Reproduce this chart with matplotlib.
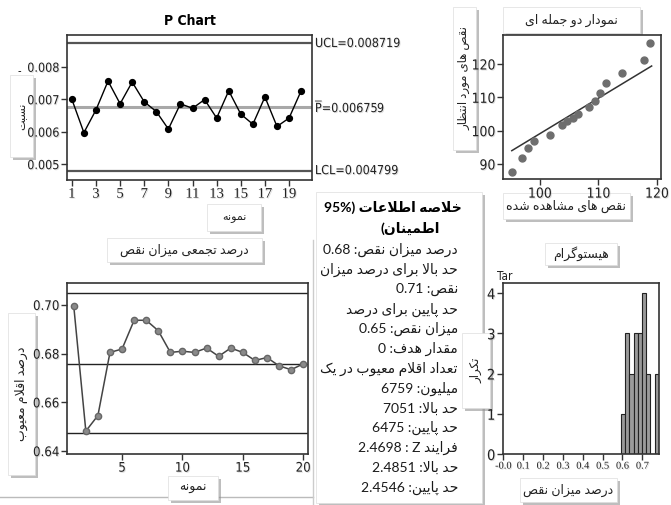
import re
import unicodedata as ud
import numpy as np
import matplotlib
matplotlib.use('Agg')
import matplotlib.pyplot as plt
import matplotlib.patheffects as pe
from matplotlib.patches import Rectangle
from matplotlib.lines import Line2D
from matplotlib.ticker import FormatStrFormatter

W, H = 671, 505

plt.rcParams['font.family'] = ['DejaVu Sans']
plt.rcParams['font.stretch'] = 'condensed'
AR_FONT = ['Lato', 'DejaVu Sans']

# P chart
samples = list(range(1, 21))
p_values = [0.00700, 0.00597, 0.00667, 0.00756, 0.00686, 0.00753, 0.00692, 0.00662, 0.00608, 0.00686,
            0.00672, 0.00699, 0.00642, 0.00726, 0.00654, 0.00623, 0.00707, 0.00616, 0.00642, 0.00726]
p_ucl = 0.008719
p_bar = 0.006759
p_lcl = 0.004799

# binomial plot
observed = [95.2, 97.0, 98.0, 99.0, 101.8, 103.7, 104.7, 105.6, 106.6, 108.4,
            109.4, 110.3, 111.3, 114.1, 117.8, 118.9]
expected = [87.7, 91.9, 94.8, 97.0, 98.8, 101.8, 103.0, 103.9, 105.1, 107.0,
            108.9, 111.2, 114.2, 117.2, 121.2, 126.4]
fit_x = [95.2, 119.1]
fit_y = [94.0, 119.4]

# cumulative % defective
cum_pct = [0.6995, 0.6482, 0.6546, 0.6805, 0.6819, 0.6937, 0.6937, 0.6894, 0.6805, 0.6810,
           0.6805, 0.6823, 0.6789, 0.6823, 0.6805, 0.6772, 0.6784, 0.6750, 0.6734, 0.6758]
ci_upper = 0.7051
ci_mean = 0.6759
ci_lower = 0.6475

# histogram
hist_edges = [0.593, 0.614, 0.635, 0.656, 0.678, 0.699, 0.720, 0.741, 0.762, 0.784]
hist_counts = [1, 3, 2, 3, 3, 4, 2, 0, 2]
hist_ticks = [0.0, 0.1, 0.2, 0.3, 0.4, 0.5, 0.6, 0.7]
hist_ticklabels = ['-0.0', '0.1', '0.2', '0.3', '0.4', '0.5', '0.6', '0.7']

summary_title = ['خلاصه اطلاعات (95%', 'اطمینان)']
summary_lines = ['درصد میزان نقص: 0.68', 'حد بالا برای درصد میزان', 'نقص: 0.71',
                 'حد پایین برای درصد', 'میزان نقص: 0.65', 'مقدار هدف: 0',
                 'تعداد اقلام معیوب در یک', 'میلیون: 6759', 'حد بالا: 7051',
                 'حد پایین: 6475', 'فرایند Z : 2.4698', 'حد بالا: 2.4851', 'حد پایین: 2.4546']


# --- minimal arabic shaping + rtl ordering (matplotlib has none) ---
def _is_ar(ch):
    return ud.name(ch, '').startswith('ARABIC LETTER')


def _form(ch, form):
    try:
        return ud.lookup(ud.name(ch) + ' ' + form + ' FORM')
    except KeyError:
        return None


def _dual(ch):
    return bool(ch) and _is_ar(ch) and _form(ch, 'INITIAL') is not None


def fa(text):
    out = []
    i, n = 0, len(text)
    while i < n:
        ch = text[i]
        if not _is_ar(ch):
            out.append(ch)
            i += 1
            continue
        prev = text[i - 1] if i > 0 else ''
        jp = _dual(prev)
        if ch == '\u0644' and i + 1 < n and text[i + 1] == '\u0627':
            out.append(ud.lookup('ARABIC LIGATURE LAM WITH ALEF %s FORM' % ('FINAL' if jp else 'ISOLATED')))
            i += 2
            continue
        nxt = text[i + 1] if i + 1 < n else ''
        jn = _dual(ch) and bool(nxt) and _is_ar(nxt)
        form = 'MEDIAL' if (jp and jn) else 'FINAL' if jp else 'INITIAL' if jn else 'ISOLATED'
        out.append(_form(ch, form) or ch)
        i += 1
    s = ''.join(out)[::-1]
    s = re.sub(r'[A-Za-z0-9.%]+', lambda m: m.group(0)[::-1], s)
    return s.translate(str.maketrans('()', ')('))


fig = plt.figure(figsize=(W / 100, H / 100), dpi=100)
shadow = [pe.withSimplePatchShadow(offset=(2.5, -2.5), shadow_rgbFace='#8a8a8a', alpha=0.55)]
tshadow = [pe.withSimplePatchShadow(offset=(0.7, -0.7), shadow_rgbFace='#aaaaaa', alpha=0.4)]


def box(x0, y0, x1, y1, z=-1):
    # label boxes sit behind the axes so tick labels stay readable
    r = Rectangle((x0 / W, 1 - y1 / H), (x1 - x0) / W, (y1 - y0) / H, transform=fig.transFigure,
                  fc='white', ec='#dddddd', lw=0.5, zorder=z)
    r.set_path_effects(shadow)
    fig.add_artist(r)


def label(x0, y0, x1, y1, txt, rot=0, size=8.5):
    box(x0, y0, x1, y1)
    fig.text((x0 + x1) / 2 / W, 1 - (y0 + y1) / 2 / H, fa(txt), rotation=rot, ha='center', va='center',
             fontsize=size, family=AR_FONT, stretch='normal', color='#222222', zorder=6)


def style(ax, size=10):
    for s in ax.spines.values():
        s.set_color('#333333')
        s.set_linewidth(1.2)
    ax.tick_params(direction='out', length=4, width=1, color='#333333', labelsize=size,
                   labelcolor='#222222', top=False, right=False, pad=1.5)
    for t in ax.get_xticklabels() + ax.get_yticklabels():
        t.set_path_effects(tshadow)


# P chart
ax1 = fig.add_axes([67 / W, 1 - 180 / H, 245 / W, 145 / H])
ax1.axhline(p_ucl, color='#555555', lw=1.6)
ax1.axhline(p_lcl, color='#555555', lw=1.6)
ax1.axhline(p_bar, color='#a8a8a8', lw=2.2)
ax1.plot(samples, p_values, color='black', lw=1, marker='o', ms=4.2, zorder=3)
ax1.set_xlim(0.6, 20.9)
ax1.set_ylim(0.00451, 0.00898)
ax1.set_xticks(samples[::2])
ax1.set_yticks([0.005, 0.006, 0.007, 0.008])
ax1.yaxis.set_major_formatter(FormatStrFormatter('%.3f'))
style(ax1, size=9)
for t in ax1.get_xticklabels():
    t.set_family('Liberation Serif')
    t.set_fontsize(10.5)
ax1.set_title('P Chart', fontsize=10, fontweight='bold', pad=7)
trans = ax1.get_yaxis_transform()
for val, txt in [(p_ucl, 'UCL=%.6f' % p_ucl), (p_bar, r'$\overline{\mathrm{P}}$=%.6f' % p_bar),
                 (p_lcl, 'LCL=%.6f' % p_lcl)]:
    ax1.text(1.012, val, txt, transform=trans, ha='left', va='center', fontsize=9, color='#222222',
             path_effects=tshadow)
label(10, 75, 33, 157, 'نسبت', rot=90, size=8)
fig.text(19 / W, 1 - 71 / H, '-', fontsize=8, ha='center', va='center')
label(207, 204, 261, 231, 'نمونه', size=8)

# binomial plot
ax2 = fig.add_axes([503 / W, 1 - 179 / H, 158 / W, 144 / H])
ax2.plot(fit_x, fit_y, color='#333333', lw=1.1)
ax2.plot(observed, expected, 'o', ms=5, color='#6e6e6e', zorder=3)
ax2.set_xlim(93.7, 120.7)
ax2.set_ylim(85.5, 128.7)
ax2.set_xticks([100, 110, 120])
ax2.set_yticks([90, 100, 110, 120])
style(ax2, size=10)
label(503, 7, 640, 33, 'نمودار دو جمله ای', size=9)
label(453, 7, 476, 150, 'نقص های مورد انتظار', rot=90, size=8.5)
label(503, 193, 630, 219, 'نقص های مشاهده شده', size=9)

# cumulative
ax3 = fig.add_axes([67 / W, 1 - 454 / H, 241 / W, 171 / H])
for v in (ci_upper, ci_mean, ci_lower):
    ax3.axhline(v, color='#222222', lw=1)
ax3.plot(samples, cum_pct, color='#444444', lw=1.1, marker='o', ms=4.5, mfc='#8a8a8a', mec='#666666',
         zorder=3)
ax3.set_xlim(0.44, 20.4)
ax3.set_ylim(0.6388, 0.709)
ax3.set_xticks([5, 10, 15, 20])
ax3.set_yticks([0.64, 0.66, 0.68, 0.70])
ax3.yaxis.set_major_formatter(FormatStrFormatter('%.2f'))
style(ax3, size=9.5)
label(107, 238, 262, 262, 'درصد تجمعی میزان نقص', size=9)
label(8, 313, 35, 475, 'درصد اقلام معیوب', rot=90, size=9)
label(168, 476, 218, 500, 'نمونه', size=9)

# histogram
ax4 = fig.add_axes([503 / W, 1 - 454 / H, 156 / W, 171 / H])
ax4.bar(hist_edges[:-1], hist_counts, width=np.diff(hist_edges), align='edge', color='#9a9a9a',
        edgecolor='#222222', lw=0.8)
ax4.set_xlim(-0.0015, 0.7838)
ax4.set_ylim(0, 4.25)
ax4.set_xticks(hist_ticks)
ax4.set_xticklabels(hist_ticklabels)
ax4.set_yticks([0, 1, 2, 3, 4])
style(ax4, size=10.5)
for t in ax4.get_xticklabels():
    t.set_family('Liberation Serif')
    t.set_fontsize(7.5)
fig.text(497 / W, 1 - 276 / H, 'Tar', fontsize=8.5, ha='left', va='center', color='#222222')
label(545, 243, 617, 265, 'هیستوگرام', size=9)
label(520, 478, 617, 502, 'درصد میزان نقص', size=9)

# summary panel
box(316, 192, 482, 503, z=-2)
fig.text(393 / W, 1 - 207 / H, fa(summary_title[0]), ha='center', va='center', fontsize=10,
         fontweight='bold', family=AR_FONT, stretch='normal', zorder=6)
fig.text(410 / W, 1 - 228 / H, fa(summary_title[1]), ha='center', va='center', fontsize=10,
         fontweight='bold', family=AR_FONT, stretch='normal', zorder=6)
for k, line in enumerate(summary_lines):
    fig.text(458 / W, 1 - (250 + 19.8 * k) / H, fa(line), ha='right', va='center', fontsize=10,
             family=AR_FONT, stretch='normal', color='#1a1a1a', zorder=6)
label(462, 333, 490, 408, 'تکرار', rot=90, size=8.5)

# scan frame lines
fig.add_artist(Line2D([0, 313 / W], [1 - 497 / H] * 2, color='#bbbbbb', lw=1, zorder=-3))
fig.add_artist(Line2D([313 / W] * 2, [0, 1 - 240 / H], color='#cccccc', lw=1, zorder=-3))

fig.savefig('out.png', dpi=100)
